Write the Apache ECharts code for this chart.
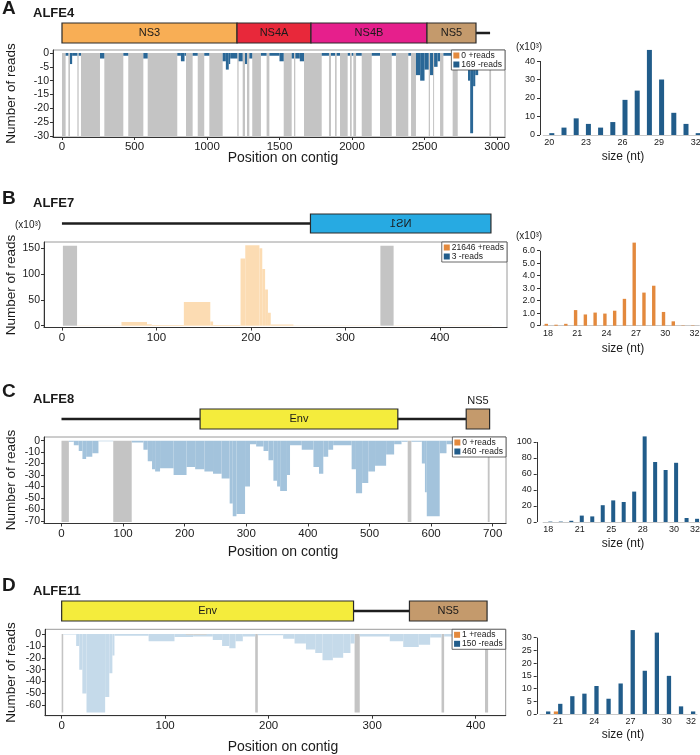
<!DOCTYPE html>
<html><head><meta charset="utf-8">
<script src="https://cdn.jsdelivr.net/npm/echarts@6/dist/echarts.min.js"></script>
<style>html,body{margin:0;padding:0;background:#fff}#c{width:700px;height:755px}</style>
</head><body><div id="c"></div>
<script>
// ================= DATA =================
// ---- Panel A : ALFE4 ----
const genesA = [
  {name:'NS3', start:0, end:1207},
  {name:'NS4A', start:1207, end:1717},
  {name:'NS4B', start:1717, end:2517},
  {name:'NS5', start:2517, end:2855}
];
const backboneA = [0, 2952];
const gapsA = [[0,25],[44,55],[106,115],[131,262],[292,423],[457,561],[591,795],[855,901],[936,981],[1016,1108],[1209,1218],[1246,1262],[1276,1292],[1312,1372],[1411,1430],[1529,1584],[1600,1609],[1669,1791],[1841,1855],[1883,1894],[1917,1970],[1986,1998],[2009,2028],[2067,2136],[2193,2274],[2303,2388],[2407,2441],[2529,2538],[2559,2566],[2607,2630],[2694,2729],[2947,2959]];
const gapDepthA = -30;
const minusCovA = [[25,44,-1],[55,70,-4],[70,106,-1],[115,131,-1],[262,292,-2],[423,457,-1],[561,591,-2],[795,820,-1],[820,845,-3],[845,855,-1],[901,936,-1],[981,1016,-1],[1108,1130,-3],[1130,1150,-6],[1150,1160,-4],[1160,1209,-2],[1218,1246,-3],[1262,1276,-4],[1292,1312,-2],[1372,1411,-1],[1430,1500,-1],[1500,1529,-3],[1584,1600,-2],[1609,1640,-2],[1640,1669,-3],[1791,1841,-1],[1855,1883,-1],[1894,1917,-1],[1970,1986,-1],[1998,2009,-1],[2028,2067,-1],[2136,2193,-1],[2274,2303,-1],[2388,2407,-1],[2441,2470,-8],[2470,2500,-10],[2500,2529,-6],[2538,2559,-8],[2566,2590,-5],[2590,2607,-3],[2630,2694,-1],[2729,2760,-2],[2760,2800,-4],[2800,2815,-10],[2815,2835,-29],[2835,2850,-12],[2850,2870,-8],[2870,2900,-6],[2900,2947,-2]];
const plusCovA = [];
const readCountsA = {plus:0, minus:169};
const posTicksA = [0,500,1000,1500,2000,2500,3000];
const readTicksA = [0,-5,-10,-15,-20,-25,-30];
const sizesA = [20,21,22,23,24,25,26,27,28,29,30,31,32];
const sizePlusA = [0,0,0,0,0,0,0,0,0,0,0,0,0];
const sizeMinusA = [1,4,9,6,4,7,19,24,46,30,12,6,1];
const sizeTickA = ['20','','','23','','','26','','','29','','','32'];
const histTicksA = [0,10,20,30,40];

// ---- Panel B : ALFE7 (values x10^3) ----
const genesB = [{name:'NS1', start:263, end:454, mirrored:true}];
const backboneB = [0, 263];
const gapsB = [[1,16],[337,351]];
const gapDepthB = 155;
const plusCovB = [[16,63,0.4],[63,90,7],[90,95,3],[95,129,1.5],[129,157,46],[157,160,8],[160,189,1.5],[189,194,130],[194,209,156],[209,212,150],[212,215,110],[215,218,70],[218,221,25],[221,245,2.5],[245,337,0.6],[351,455,0.3]];
const minusCovB = [];
const readCountsB = {plus:21646, minus:3};
const posTicksB = [0,100,200,300,400];
const readTicksB = [0,50,100,150];
const sizesB = [18,19,20,21,22,23,24,25,26,27,28,29,30,31,32,33];
const sizePlusB = [0.15,0.08,0.15,1.25,0.9,1.05,0.97,1.2,2.15,6.65,2.65,3.2,1.1,0.35,0.03,0.03];
const sizeMinusB = [0,0,0,0,0,0,0,0,0,0,0,0,0,0,0,0];
const sizeTickB = ['18','','','21','','','24','','','27','','','30','','','32'];
const histTicksB = [0,1,2,3,4,5,6];

// ---- Panel C : ALFE8 ----
const genesC = [
  {name:'Env', start:225, end:546},
  {name:'NS5', start:657, end:695, labelAbove:true}
];
const backboneC = [0, 657];
const gapsC = [[0,12],[84,114],[562,568],[692,695]];
const gapDepthC = -71;
const minusCovC = [[12,20,-1],[20,28,-4],[28,34,-9],[34,40,-16],[40,50,-14],[50,60,-11],[60,84,-0.5],[114,133,-1.5],[133,140,-8],[140,147,-18],[147,152,-25],[152,160,-27],[160,182,-24],[182,203,-30],[203,217,-23],[217,232,-25],[232,246,-27],[246,260,-29],[260,273,-33],[273,278,-55],[278,284,-66],[284,298,-64],[298,306,-40],[306,316,-3],[316,328,-5],[328,336,-9],[336,344,-17],[344,350,-35],[350,355,-40],[355,366,-44],[366,371,-30],[371,390,-4],[390,409,-8],[409,418,-23],[418,425,-29],[425,433,-14],[433,441,-8],[441,471,-4],[471,478,-25],[478,488,-46],[488,498,-37],[498,509,-27],[509,527,-22],[527,540,-12],[540,552,-3],[552,562,-1],[568,585,-1],[585,590,-20],[590,593,-45],[593,614,-66],[614,625,-11],[625,635,-3],[635,692,-0.3]];
const plusCovC = [];
const readCountsC = {plus:0, minus:460};
const posTicksC = [0,100,200,300,400,500,600,700];
const readTicksC = [0,-10,-20,-30,-40,-50,-60,-70];
const sizesC = [18,19,20,21,22,23,24,25,26,27,28,29,30,31,32];
const sizePlusC = [0,0,0,0,0,0,0,0,0,0,0,0,0,0,0];
const sizeMinusC = [0.5,0.5,1.5,8,7,21,27,25,38,107,75,65,74,5,4];
const sizeTickC = ['18','','','21','','','25','','','28','','','30','','32'];
const histTicksC = [0,20,40,60,80,100];

// ---- Panel D : ALFE11 ----
const genesD = [
  {name:'Env', start:0, end:282},
  {name:'NS5', start:336, end:411}
];
const backboneD = [0, 336];
const gapsD = [[0,1.5],[187,189.5],[283,288],[367,369.5],[409,412]];
const gapDepthD = -66;
const minusCovD = [[1.5,14,-0.5],[14,17,-10],[17,20,-30],[20,24,-50],[24,42,-66],[42,46,-53],[46,49,-33],[49,51,-18],[51,84,-1.5],[84,109,-6],[109,127,-2.5],[127,146,-2],[146,155,-5],[155,162,-10],[162,168,-12],[168,175,-6],[175,187,-2],[189.5,214,-1],[214,225,-4],[225,236,-8],[236,245,-13],[245,252,-16],[252,262,-22],[262,272,-20],[272,279,-16],[279,283,-8],[288,317,-2],[317,330,-6],[330,345,-11],[345,356,-9],[356,367,-3],[369.5,382,-2],[382,409,-0.5]];
const plusCovD = [[120,140,-0.3]];
const readCountsD = {plus:1, minus:150};
const posTicksD = [0,100,200,300,400];
const readTicksD = [0,-10,-20,-30,-40,-50,-60];
const sizesD = [20,21,22,23,24,25,26,27,28,29,30,31,32];
const sizePlusD = [0,1,0,0,0,0,0,0,0,0,0,0,0];
const sizeMinusD = [1,4,7,8,11,6,12,33,17,32,15,3,1];
const sizeTickD = ['','21','','','24','','','27','','','30','','32'];
const histTicksD = [0,5,10,15,20,25,30];

// ================= STYLE / LAYOUT =================
const FONT = '"Liberation Sans", Arial, Helvetica, sans-serif';
const geneColors = {NS3:'#F8AE55', NS4A:'#E8283A', NS4B:'#E61F8C', NS5:'#C49A6C', NS1:'#27AAE2', Env:'#F4EC3C'};
const GAP_COLOR = '#C4C4C4';
const PLUS_COLOR = '#E3893D', MINUS_COLOR = '#215C8A';

const panels = [
  {id:'A', label:'A', title:'ALFE4', genes:genesA, backbone:backboneA, gaps:gapsA, gapDepth:gapDepthA,
   minusCov:minusCovA, plusCov:plusCovA, counts:readCountsA, posTicks:posTicksA, readTicks:readTicksA,
   sizes:sizesA, sizePlus:sizePlusA, sizeMinus:sizeMinusA, sizeTick:sizeTickA, histTicks:histTicksA,
   covColor:'#2A6796', plusColor:'#FBDCB4', xTitle:true, histFmt:v=>String(v),
   L:{left:53,right:505,xMin:-62,xMax:3055,gTop:23,gH:20,cTop:50,cBot:137,yMin:-30.36,yMax:1.08,
      hLeft:543.2,hW:158.6,hTop:49,hBot:135,hMax:46.5,hOff:3.2,barW:5,
      letterY:9,titleY:13,ylabY:93.5,xTitleY:158,sizeY:157,unitsHist:47.7}},
  {id:'B', label:'B', title:'ALFE7', genes:genesB, backbone:backboneB, gaps:gapsB, gapDepth:gapDepthB,
   minusCov:minusCovB, plusCov:plusCovB, counts:readCountsB, posTicks:posTicksB, readTicks:readTicksB,
   sizes:sizesB, sizePlus:sizePlusB, sizeMinus:sizeMinusB, sizeTick:sizeTickB, histTicks:histTicksB,
   covColor:'#2A6796', plusColor:'#FCDCB3', xTitle:false, histFmt:v=>v===0?'0':v.toFixed(1),
   L:{left:44,right:507,xMin:-19,xMax:471,gTop:214,gH:19,cTop:242,cBot:327.5,yMin:-3.5,yMax:162.2,
      hLeft:543.1,hW:156.3,hTop:241,hBot:325.7,hMax:6.78,hOff:3.1,barW:3.4,
      letterY:199,titleY:203,ylabY:285,xTitleY:null,sizeY:349,unitsHist:236,unitsMain:225.7}},
  {id:'C', label:'C', title:'ALFE8', genes:genesC, backbone:backboneC, gaps:gapsC, gapDepth:gapDepthC,
   minusCov:minusCovC, plusCov:plusCovC, counts:readCountsC, posTicks:posTicksC, readTicks:readTicksC,
   sizes:sizesC, sizePlus:sizePlusC, sizeMinus:sizeMinusC, sizeTick:sizeTickC, histTicks:histTicksC,
   covColor:'#A3C3DC', plusColor:'#FBDCB4', xTitle:true, histFmt:v=>String(v),
   L:{left:44,right:506,xMin:-28.4,xMax:721.6,gTop:409,gH:20,cTop:437,cBot:523.5,yMin:-72.4,yMax:3.24,
      hLeft:543.1,hW:157.2,hTop:435.6,hBot:522,hMax:108,hOff:6.4,barW:4,
      letterY:391.5,titleY:399,ylabY:480,xTitleY:551.7,sizeY:543.3}},
  {id:'D', label:'D', title:'ALFE11', genes:genesD, backbone:backboneD, gaps:gapsD, gapDepth:gapDepthD,
   minusCov:minusCovD, plusCov:plusCovD, counts:readCountsD, posTicks:posTicksD, readTicks:readTicksD,
   sizes:sizesD, sizePlus:sizePlusD, sizeMinus:sizeMinusD, sizeTick:sizeTickD, histTicks:histTicksD,
   covColor:'#C5DAEA', plusColor:'#F6C08A', xTitle:true, histFmt:v=>String(v),
   L:{left:45,right:505.7,xMin:-16.1,xMax:429,gTop:601,gH:20,cTop:629.3,cBot:715.7,yMin:-68.8,yMax:3.96,
      hLeft:540,hW:157,hTop:628.8,hBot:714,hMax:33.5,hOff:3.3,barW:4.3,
      letterY:586,titleY:591.5,ylabY:672.5,xTitleY:747,sizeY:735}}
];

// ================= BUILD =================
const grid=[], xAxis=[], yAxis=[], series=[], legend=[], graphic=[];
function txt(x,y,s,size,o){o=o||{};graphic.push({type:'text',x:x,y:y,rotation:o.rot||0,silent:true,
  style:{text:s,fontSize:size,fontWeight:o.bold?'bold':'normal',fontFamily:FONT,fill:o.color||'#1a1a1a',
  align:o.align||'left',verticalAlign:'middle'}});}

function rectSeries(gi, data, color){
  return {type:'custom', xAxisIndex:gi, yAxisIndex:gi, silent:true, clip:true, data:data,
    encode:{x:[0,1], y:2},
    renderItem:function(params, api){
      const p0 = api.coord([api.value(0), 0]);
      const p1 = api.coord([api.value(1), api.value(2)]);
      return {type:'rect', shape:{x:p0[0], y:Math.min(p0[1],p1[1]), width:p1[0]-p0[0], height:Math.abs(p1[1]-p0[1])},
        style:{fill:color}};
    }};
}
const plain = function(v){ return String(v); };

panels.forEach(function(P){
  const L = P.L;
  const g0 = grid.length, g1 = g0+1, g2 = g0+2;
  // --- genome map ---
  grid.push({left:L.left, width:L.right-L.left, top:L.gTop, height:L.gH, show:false, containLabel:false, outerBoundsMode:'none'});
  xAxis.push({gridIndex:g0, type:'value', min:L.xMin, max:L.xMax, show:false});
  yAxis.push({gridIndex:g0, type:'value', min:0, max:1, show:false});
  series.push({type:'custom', xAxisIndex:g0, yAxisIndex:g0, silent:true, clip:false, data:[P.backbone],
    renderItem:function(params, api){
      const a = api.coord([api.value(0),0.5]), b = api.coord([api.value(1),0.5]);
      return {type:'line', shape:{x1:a[0],y1:a[1],x2:b[0],y2:b[1]}, style:{stroke:'#1e1e1e', lineWidth:2.6}};
    }});
  series.push({type:'custom', xAxisIndex:g0, yAxisIndex:g0, silent:true, clip:false,
    data:P.genes.map(function(g){return [g.start, g.end];}),
    renderItem:function(params, api){
      const g = P.genes[params.dataIndex];
      const s = api.coord([api.value(0),1]), e = api.coord([api.value(1),0]);
      const cx = (s[0]+e[0])/2, cy = (s[1]+e[1])/2;
      return {type:'group', children:[
        {type:'rect', shape:{x:s[0], y:s[1], width:e[0]-s[0], height:e[1]-s[1]},
         style:{fill:geneColors[g.name], stroke:'#2a2a2a', lineWidth:1.2}},
        {type:'text', x:cx, y:g.labelAbove ? s[1]-8.5 : cy, scaleX:g.mirrored?-1:1,
         style:{text:g.name, fontSize:11, fontFamily:FONT, fill:'#1a1a1a', align:'center', verticalAlign:'middle'}}
      ]};
    }});
  // --- coverage plot ---
  grid.push({left:L.left, width:L.right-L.left, top:L.cTop, height:L.cBot-L.cTop, show:true,
    borderColor:'#9a9a9a', borderWidth:1, backgroundColor:'rgba(0,0,0,0)', containLabel:false, outerBoundsMode:'none'});
  xAxis.push({gridIndex:g1, type:'value', min:L.xMin, max:L.xMax,
    axisLine:{show:true, onZero:false, lineStyle:{color:'#333', width:1}},
    axisTick:{show:true, length:3, customValues:P.posTicks, lineStyle:{color:'#333'}},
    axisLabel:{show:true, customValues:P.posTicks, fontSize:11.5, color:'#1a1a1a', margin:4, fontFamily:FONT,
      formatter:plain, showMinLabel:true, showMaxLabel:true, hideOverlap:false},
    splitLine:{show:false}});
  yAxis.push({gridIndex:g1, type:'value', min:L.yMin, max:L.yMax,
    axisLine:{show:true, onZero:false, lineStyle:{color:'#333', width:1}},
    axisTick:{show:true, length:3, customValues:P.readTicks, lineStyle:{color:'#333'}},
    axisLabel:{show:true, customValues:P.readTicks, fontSize:10.5, lineHeight:10, color:'#1a1a1a', margin:4, fontFamily:FONT,
      formatter:plain, showMinLabel:true, showMaxLabel:true, hideOverlap:false},
    splitLine:{show:false}});
  series.push(rectSeries(g1, P.gaps.map(function(g){return [g[0], g[1], P.gapDepth];}), GAP_COLOR));
  series.push(rectSeries(g1, P.minusCov, P.covColor));
  series.push(rectSeries(g1, P.plusCov, P.plusColor));
  // --- size histogram ---
  grid.push({left:L.hLeft, width:L.hW, top:L.hTop, height:L.hBot-L.hTop, show:false, containLabel:false, outerBoundsMode:'none'});
  xAxis.push({gridIndex:g2, type:'category', data:P.sizes.map(String), boundaryGap:true,
    axisLine:{show:true, lineStyle:{color:'#c9c9c9', width:1}}, axisTick:{show:false},
    axisLabel:{interval:0, fontSize:9, color:'#1a1a1a', margin:3, fontFamily:FONT, hideOverlap:false,
      formatter:function(v, i){return P.sizeTick[i];}},
    splitLine:{show:false}});
  yAxis.push({gridIndex:g2, type:'value', min:0, max:L.hMax, offset:L.hOff,
    axisLine:{show:false},
    axisTick:{show:true, length:3, customValues:P.histTicks, lineStyle:{color:'#333'}},
    axisLabel:{show:true, customValues:P.histTicks, fontSize:9, color:'#1a1a1a', margin:5, fontFamily:FONT,
      formatter:P.histFmt, showMinLabel:true, hideOverlap:false},
    splitLine:{show:false}});
  // axis line spanning only the labelled tick range (0 .. last tick)
  series.push({type:'custom', xAxisIndex:g2, yAxisIndex:g2, silent:true, clip:false,
    data:[[0, P.histTicks[P.histTicks.length-1]]],
    renderItem:function(params, api){
      const half = api.size([1,0])[0]/2;
      const a = api.coord([0,0]), b = api.coord([0, api.value(1)]);
      const x = Math.round(a[0]-half-L.hOff)+0.5;
      return {type:'line', shape:{x1:x, y1:a[1], x2:x, y2:b[1]}, style:{stroke:'#333', lineWidth:1}};
    }});
  series.push({type:'bar', name:P.id+'+', xAxisIndex:g2, yAxisIndex:g2, data:P.sizePlus, barWidth:L.barW, barGap:'0%',
    itemStyle:{color:PLUS_COLOR}, silent:true});
  series.push({type:'bar', name:P.id+'-', xAxisIndex:g2, yAxisIndex:g2, data:P.sizeMinus, barWidth:L.barW, barGap:'0%',
    itemStyle:{color:MINUS_COLOR}, silent:true});
  // --- legend ---
  legend.push({data:[P.id+'+', P.id+'-'], orient:'vertical', right:700-L.right, top:L.cTop, icon:'rect',
    itemWidth:6, itemHeight:6, itemGap:0, padding:[1,3,1,2], borderColor:'#444', borderWidth:0.8,
    backgroundColor:'#fff', selectedMode:false,
    textStyle:{fontSize:8.5, color:'#1a1a1a', fontFamily:FONT, padding:[0,0,0,-3]},
    formatter:function(n){return n.slice(-1)==='+' ? P.counts.plus+' +reads' : P.counts.minus+' -reads';}});
  // --- texts ---
  txt(2, L.letterY, P.label, 19, {bold:true});
  txt(33, L.titleY, P.title, 13, {bold:true});
  txt(11, L.ylabY, 'Number of reads', 13.5, {rot:Math.PI/2, align:'center'});
  if (P.xTitle) txt(283, L.xTitleY, 'Position on contig', 14, {align:'center'});
  txt(623, L.sizeY, 'size (nt)', 12, {align:'center'});
  if (L.unitsHist) txt(516, L.unitsHist, '(x10³)', 10);
  if (L.unitsMain) txt(15, L.unitsMain, '(x10³)', 10);
});

const chart = echarts.init(document.getElementById('c'));
chart.setOption({animation:false, backgroundColor:'#fff', grid:grid, xAxis:xAxis, yAxis:yAxis, series:series, legend:legend, graphic:graphic});
</script></body></html>
